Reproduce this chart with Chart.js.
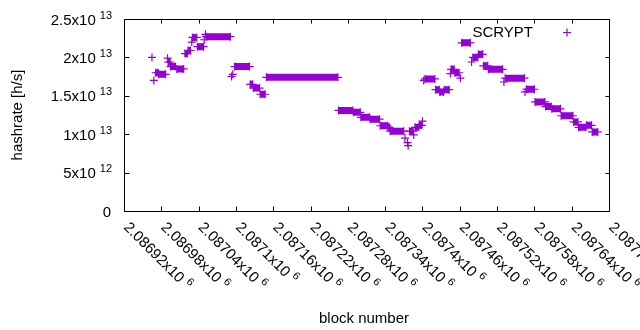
<!DOCTYPE html>
<html>
<head>
<meta charset="utf-8">
<script src="https://cdn.jsdelivr.net/npm/chart.js@4"></script>
<style>
  html, body { margin: 0; background: #fff; }
  #wrap { width: 640px; height: 330px; }
</style>
</head>
<body>
<div id="wrap"><canvas id="chart"></canvas></div>
<script>
// runs of blocks sharing the same estimated hashrate (first block, last block, h/s)
const runStart = [2086965, 2086968, 2086971, 2086976, 2086990, 2086991, 2086995, 2087005, 2087018, 2087023,
                  2087029, 2087030, 2087038, 2087049, 2087051, 2087052, 2087093, 2087095, 2087098, 2087123,
                  2087128, 2087139, 2087149, 2087265, 2087289, 2087301, 2087316, 2087332, 2087345, 2087348,
                  2087372, 2087376, 2087377, 2087379, 2087386, 2087388, 2087395, 2087400, 2087402, 2087404,
                  2087421, 2087428, 2087435, 2087445, 2087446, 2087452, 2087461, 2087463, 2087479, 2087481,
                  2087490, 2087498, 2087506, 2087531, 2087533, 2087565, 2087567, 2087581, 2087598, 2087608,
                  2087623, 2087643, 2087651, 2087664, 2087673];
const runEnd   = [2086965, 2086968, 2086975, 2086987, 2086990, 2086994, 2087003, 2087016, 2087022, 2087027,
                  2087029, 2087037, 2087048, 2087049, 2087051, 2087091, 2087093, 2087095, 2087122, 2087127,
                  2087138, 2087147, 2087264, 2087288, 2087300, 2087315, 2087331, 2087344, 2087347, 2087370,
                  2087372, 2087376, 2087377, 2087385, 2087386, 2087394, 2087399, 2087400, 2087402, 2087420,
                  2087427, 2087434, 2087443, 2087445, 2087451, 2087459, 2087461, 2087477, 2087479, 2087489,
                  2087497, 2087505, 2087529, 2087531, 2087564, 2087565, 2087580, 2087597, 2087607, 2087622,
                  2087642, 2087650, 2087663, 2087672, 2087682];
const runHashrate = [2.00e13, 1.70e13, 1.80e13, 1.78e13, 1.99e13, 1.94e13, 1.88e13, 1.85e13, 2.05e13, 2.09e13,
                     2.20e13, 2.26e13, 2.14e13, 2.23e13, 2.30e13, 2.27e13, 1.75e13, 1.78e13, 1.88e13, 1.65e13,
                     1.60e13, 1.52e13, 1.74e13, 1.31e13, 1.285e13, 1.22e13, 1.195e13, 1.11e13, 1.09e13, 1.04e13,
                     0.95e13, 0.89e13, 0.85e13, 1.04e13, 0.99e13, 1.09e13, 1.115e13, 1.17e13, 1.70e13, 1.72e13,
                     1.58e13, 1.55e13, 1.58e13, 1.79e13, 1.845e13, 1.80e13, 1.73e13, 2.19e13, 1.94e13, 2.00e13,
                     2.04e13, 1.89e13, 1.845e13, 1.68e13, 1.73e13, 1.55e13, 1.585e13, 1.42e13, 1.36e13, 1.33e13,
                     1.24e13, 1.16e13, 1.09e13, 1.115e13, 1.03e13];

const xTickValues = [2086920, 2086980, 2087040, 2087100, 2087160, 2087220, 2087280,
                     2087340, 2087400, 2087460, 2087520, 2087580, 2087640, 2087700];
const xTickText = ['2.08692x10', '2.08698x10', '2.08704x10', '2.0871x10', '2.08716x10', '2.08722x10', '2.08728x10',
                   '2.08734x10', '2.0874x10', '2.08746x10', '2.08752x10', '2.08758x10', '2.08764x10', '2.0877x10'];
const xTickExp = '6';
const yTickValues = [0, 5e12, 1e13, 1.5e13, 2e13, 2.5e13];
const yTickText = ['0', '5x10', '1x10', '1.5x10', '2x10', '2.5x10'];
const yTickExp = ['', '12', '13', '13', '13', '13'];

const seriesName = 'SCRYPT';
const purple = '#9400d3';
const FONT = '"Liberation Sans", Arial, sans-serif';

// one line piece per run, broken by a null between runs
const points = [];
runStart.forEach((s, i) => {
    points.push({ x: s, y: runHashrate[i] });
    if (runEnd[i] !== s) points.push({ x: runEnd[i], y: runHashrate[i] });
    points.push({ x: runEnd[i] + 0.5, y: null });
});

const gnuplotFrame = {
    id: 'gnuplotFrame',
    afterDraw(chart) {
        const ctx = chart.ctx;
        const xs = chart.scales.x, ys = chart.scales.y;
        const a = chart.chartArea;
        const L = Math.round(a.left) + 0.5, R = Math.round(a.right) + 0.5;
        const T = Math.round(a.top) + 0.5, B = Math.round(a.bottom) + 0.5;
        ctx.save();
        ctx.strokeStyle = '#000';
        ctx.lineWidth = 1;
        ctx.beginPath();
        ctx.rect(L, T, R - L, B - T);
        xTickValues.forEach(v => {
            const px = Math.round(xs.getPixelForValue(v)) + 0.5;
            ctx.moveTo(px, B); ctx.lineTo(px, B - 5);
            ctx.moveTo(px, T); ctx.lineTo(px, T + 4);
        });
        yTickValues.forEach(v => {
            const py = Math.round(ys.getPixelForValue(v)) + 0.5;
            ctx.moveTo(L, py); ctx.lineTo(L + 5, py);
            ctx.moveTo(R, py); ctx.lineTo(R - 4, py);
        });
        ctx.stroke();

        ctx.fillStyle = '#000';
        // y tick labels
        yTickValues.forEach((v, i) => {
            const py = ys.getPixelForValue(v);
            ctx.textBaseline = 'alphabetic';
            ctx.textAlign = 'right';
            if (yTickExp[i]) {
                ctx.font = '11px ' + FONT;
                ctx.fillText(yTickExp[i], 112, py - 0.5);
                const w = ctx.measureText(yTickExp[i]).width;
                ctx.font = '15px ' + FONT;
                ctx.fillText(yTickText[i], 112 - w - 4, py + 5.5);
            } else {
                ctx.font = '15px ' + FONT;
                ctx.fillText(yTickText[i], 111, py + 5.5);
            }
        });
        // x tick labels, rotated
        xTickValues.forEach((v, i) => {
            const px = xs.getPixelForValue(v);
            ctx.save();
            ctx.translate(px - 1, 228);
            ctx.rotate(Math.PI / 4);
            ctx.textAlign = 'left';
            ctx.textBaseline = 'alphabetic';
            ctx.font = '15px ' + FONT;
            ctx.fillText(xTickText[i], 0, 0);
            const w = ctx.measureText(xTickText[i] + ' ').width;
            ctx.font = '11px ' + FONT;
            ctx.fillText(xTickExp, w, -6);
            ctx.restore();
        });
        // axis titles
        ctx.font = '15px ' + FONT;
        ctx.textAlign = 'center';
        ctx.textBaseline = 'alphabetic';
        ctx.fillText('block number', 364, 323);
        ctx.save();
        ctx.translate(22, 115);
        ctx.rotate(-Math.PI / 2);
        ctx.fillText('hashrate [h/s]', 0, 0);
        ctx.restore();
        // key
        ctx.textAlign = 'right';
        ctx.fillText(seriesName, 533, 37);
        ctx.strokeStyle = purple;
        ctx.lineWidth = 1.2;
        ctx.beginPath();
        ctx.moveTo(563, 32.5); ctx.lineTo(571, 32.5);
        ctx.moveTo(567, 28.5); ctx.lineTo(567, 36.5);
        ctx.stroke();
        ctx.restore();
    }
};

new Chart(document.getElementById('chart'), {
    type: 'line',
    data: {
        datasets: [{
            label: seriesName,
            data: points,
            borderColor: purple,
            backgroundColor: purple,
            borderWidth: 7,
            borderCapStyle: 'butt',
            spanGaps: false,
            tension: 0,
            pointStyle: 'cross',
            pointRadius: 4,
            pointBorderWidth: 1.2,
            pointBorderColor: purple,
            pointHoverRadius: 4
        }]
    },
    options: {
        responsive: true,
        maintainAspectRatio: false,
        animation: false,
        devicePixelRatio: 1,
        layout: { padding: { left: 124, top: 19, right: 31, bottom: 119 } },
        plugins: { legend: { display: false }, tooltip: { enabled: false } },
        scales: {
            x: { type: 'linear', display: false, min: 2086920, max: 2087700 },
            y: { type: 'linear', display: false, min: 0, max: 2.5e13 }
        }
    },
    plugins: [gnuplotFrame]
});
</script>
</body>
</html>
